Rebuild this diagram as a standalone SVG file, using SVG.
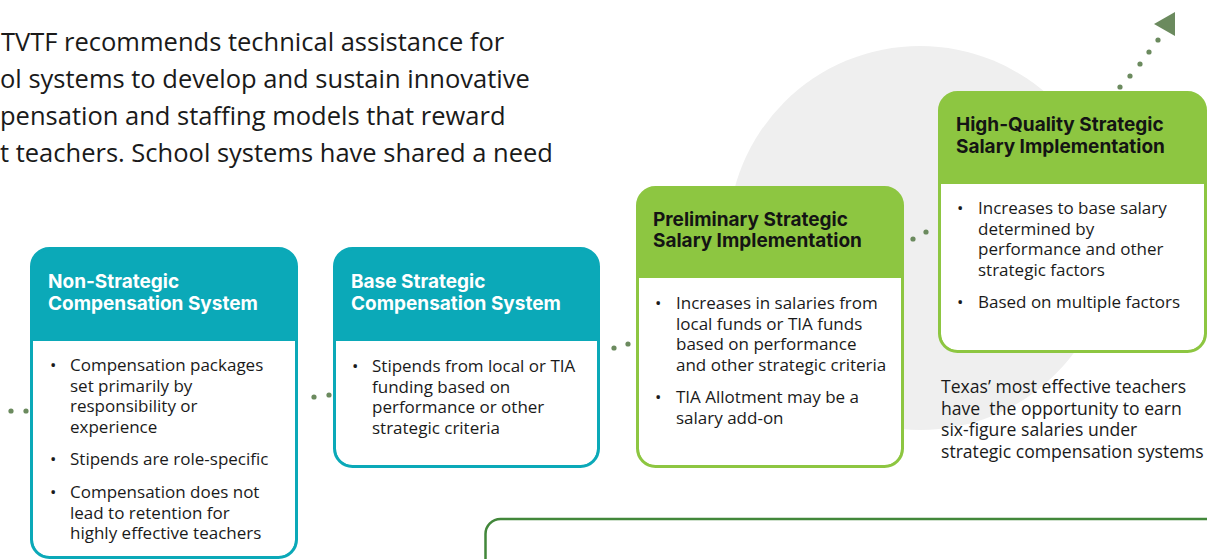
<svg xmlns="http://www.w3.org/2000/svg" width="1207" height="559" viewBox="0 0 1207 559">
<style>
.intro{font-family:"Open Sans","Noto Sans",sans-serif;font-size:25.5px;fill:#1a1a1a}
.title{font-family:Inter,"Lato",sans-serif;font-weight:700;font-size:19px}
.tw{fill:#ffffff}
.td{fill:#141414}
.body{font-family:"Open Sans","Noto Sans",sans-serif;font-size:17px;fill:#1a1a1a}
.cap{font-family:"Open Sans","Noto Sans",sans-serif;font-size:17.6px;fill:#1a1a1a}
.teal{fill:#0ba9b8}
.lime{fill:#8dc641}
.bteal{fill:none;stroke:#0ba9b8;stroke-width:3}
.blime{fill:none;stroke:#8dc641;stroke-width:3}
.dot{fill:#6b8a5e}
</style>
<rect width="1207" height="559" fill="#ffffff"/>
<circle cx="920" cy="238" r="192" fill="#efefef"/>
<g id="intro">
<text class="intro"><tspan x="1" y="51">TVTF recommends technical assistance for</tspan><tspan x="0" y="88">ol systems to develop and sustain innovative</tspan><tspan x="0" y="125">pensation and staffing models that reward</tspan><tspan x="0" y="162">t teachers. School systems have shared a need</tspan></text>
</g>
<g id="connectors">
<circle class="dot" cx="11" cy="411" r="2.6"/>
<circle class="dot" cx="26" cy="411" r="2.6"/>
<circle class="dot" cx="314" cy="397" r="2.6"/>
<circle class="dot" cx="329" cy="395" r="2.6"/>
<circle class="dot" cx="614" cy="348" r="2.6"/>
<circle class="dot" cx="628" cy="344" r="2.6"/>
<circle class="dot" cx="913" cy="239" r="2.6"/>
<circle class="dot" cx="926" cy="232" r="2.6"/>
<circle class="dot" cx="1120" cy="87" r="2.6"/>
<circle class="dot" cx="1130" cy="76" r="2.6"/>
<circle class="dot" cx="1140" cy="64" r="2.6"/>
<circle class="dot" cx="1149" cy="52" r="2.6"/>
<circle class="dot" cx="1158" cy="40" r="2.6"/>
<polygon class="dot" points="1154,24 1175,12 1175,36"/>
</g>
<g id="node-non-strategic">
<rect class="teal" x="31.5" y="248.5" width="265" height="309" rx="18"/>
<rect x="33" y="341" width="262" height="215" rx="16" fill="#ffffff"/>
<rect x="33" y="341" width="262" height="30" fill="#ffffff"/>
<rect class="bteal" x="31.5" y="248.5" width="265" height="309" rx="18"/>
<text class="title tw"><tspan x="48" y="288">Non-Strategic</tspan><tspan x="48" y="310">Compensation System</tspan></text>
<g class="body">
<text x="50" y="371">•</text>
<text><tspan x="70" y="371">Compensation packages</tspan><tspan x="70" y="391.5">set primarily by</tspan><tspan x="70" y="412">responsibility or</tspan><tspan x="70" y="432.5">experience</tspan></text>
<text x="50" y="465">•</text>
<text x="70" y="465">Stipends are role-specific</text>
<text x="50" y="498">•</text>
<text><tspan x="70" y="498">Compensation does not</tspan><tspan x="70" y="518.5">lead to retention for</tspan><tspan x="70" y="539">highly effective teachers</tspan></text>
</g>
</g>
<g id="node-base-strategic">
<rect class="teal" x="334.5" y="248.5" width="264" height="218" rx="18"/>
<rect x="336" y="341" width="261" height="124" rx="16" fill="#ffffff"/>
<rect x="336" y="341" width="261" height="30" fill="#ffffff"/>
<rect class="bteal" x="334.5" y="248.5" width="264" height="218" rx="18"/>
<text class="title tw"><tspan x="351" y="288">Base Strategic</tspan><tspan x="351" y="310">Compensation System</tspan></text>
<g class="body">
<text x="352" y="372">•</text>
<text><tspan x="372" y="372">Stipends from local or TIA</tspan><tspan x="372" y="392.5">funding based on</tspan><tspan x="372" y="413">performance or other</tspan><tspan x="372" y="433.5">strategic criteria</tspan></text>
</g>
</g>
<g id="node-preliminary">
<rect class="lime" x="637.5" y="187.5" width="265" height="279" rx="18"/>
<rect x="639" y="278" width="262" height="187" rx="16" fill="#ffffff"/>
<rect x="639" y="278" width="262" height="30" fill="#ffffff"/>
<rect class="blime" x="637.5" y="187.5" width="265" height="279" rx="18"/>
<text class="title td"><tspan x="653" y="226">Preliminary Strategic</tspan><tspan x="653" y="247">Salary Implementation</tspan></text>
<g class="body">
<text x="655" y="309">•</text>
<text><tspan x="676" y="309">Increases in salaries from</tspan><tspan x="676" y="329.5">local funds or TIA funds</tspan><tspan x="676" y="350">based on performance</tspan><tspan x="676" y="370.5">and other strategic criteria</tspan></text>
<text x="655" y="403">•</text>
<text><tspan x="676" y="403">TIA Allotment may be a</tspan><tspan x="676" y="423.5">salary add-on</tspan></text>
</g>
</g>
<g id="node-high-quality">
<rect class="lime" x="939.5" y="92.5" width="266" height="259" rx="18"/>
<rect x="941" y="184" width="263" height="166" rx="16" fill="#ffffff"/>
<rect x="941" y="184" width="263" height="30" fill="#ffffff"/>
<rect class="blime" x="939.5" y="92.5" width="266" height="259" rx="18"/>
<text class="title td"><tspan x="956" y="131">High-Quality Strategic</tspan><tspan x="956" y="153">Salary Implementation</tspan></text>
<g class="body">
<text x="957" y="214">•</text>
<text><tspan x="978" y="214">Increases to base salary</tspan><tspan x="978" y="234.5">determined by</tspan><tspan x="978" y="255">performance and other</tspan><tspan x="978" y="275.5">strategic factors</tspan></text>
<text x="957" y="308">•</text>
<text x="978" y="308">Based on multiple factors</text>
</g>
</g>
<g id="caption">
<text class="cap" xml:space="preserve"><tspan x="941" y="393">Texas’ most effective teachers</tspan><tspan x="941" y="415">have  the opportunity to earn</tspan><tspan x="941" y="436">six-figure salaries under</tspan><tspan x="941" y="458">strategic compensation systems</tspan></text>
</g>
<g id="node-bottom">
<rect x="485.5" y="519" width="760" height="80" rx="15" fill="none" stroke="#42873a" stroke-width="2.5"/>
</g>
</svg>
